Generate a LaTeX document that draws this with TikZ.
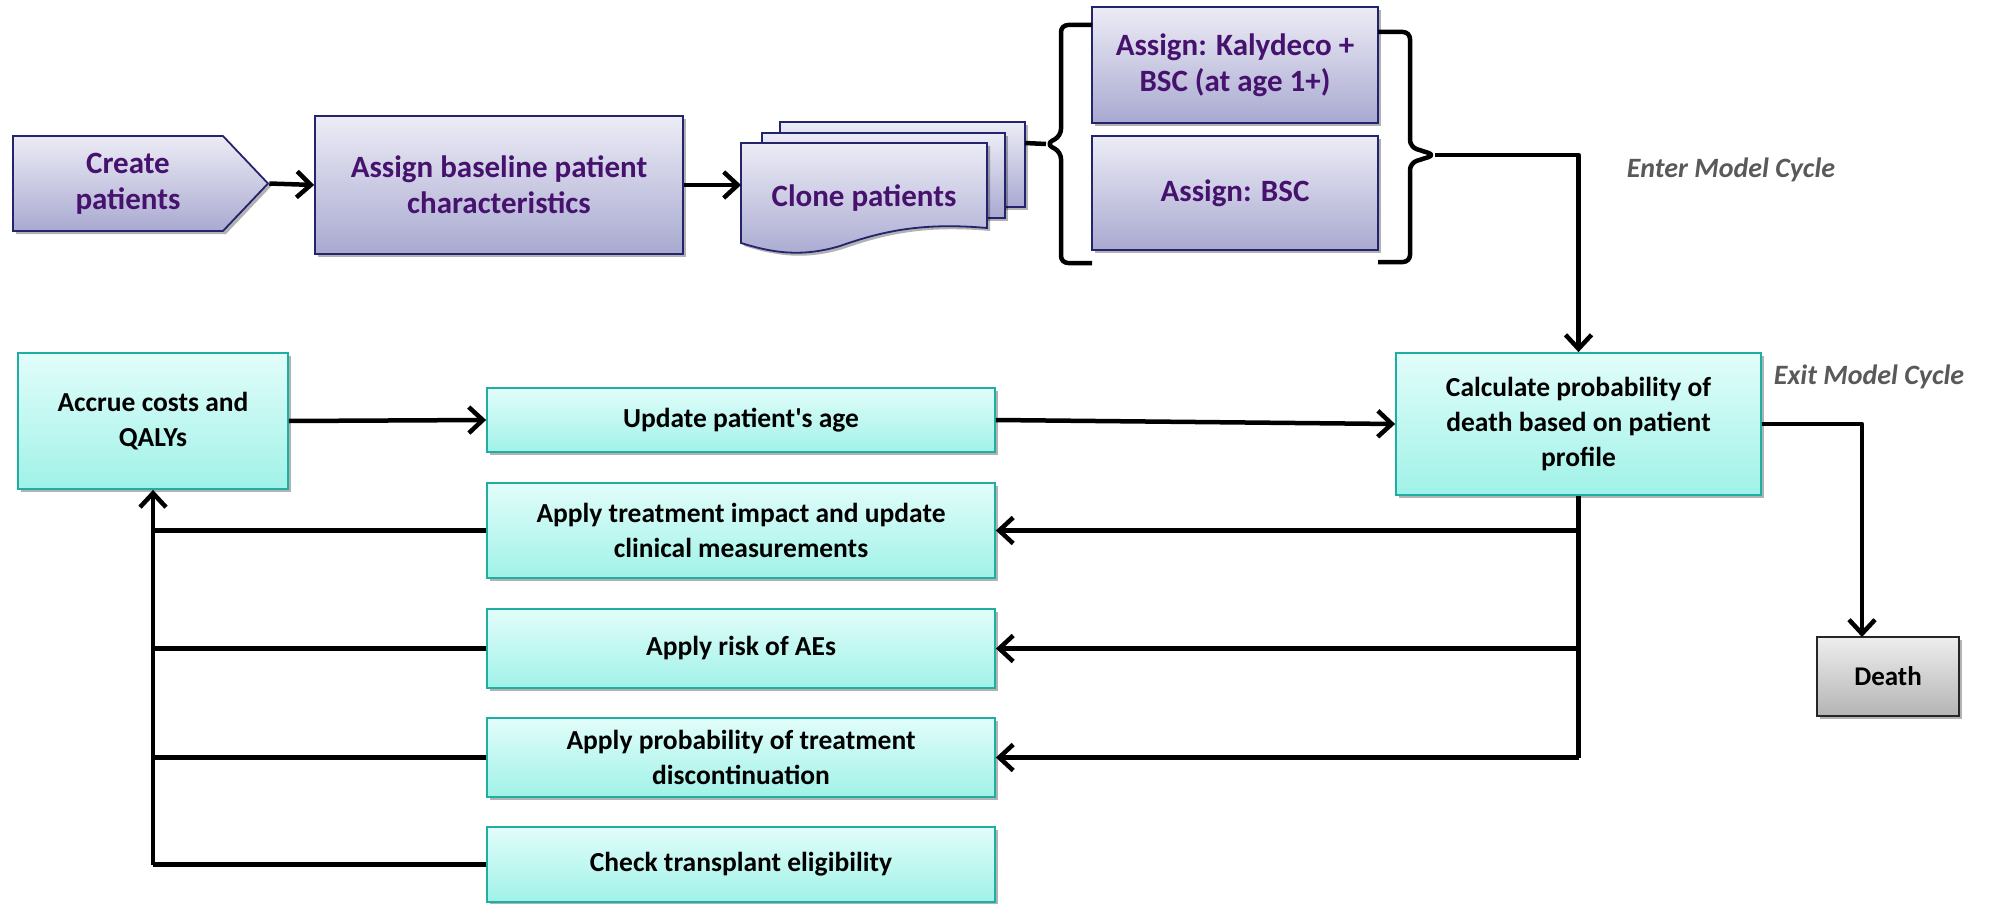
\documentclass[tikz,border=0pt]{standalone}
\usepackage{fontspec}
\setmainfont{Carlito}[Ligatures=TeXOff]
\usetikzlibrary{arrows.meta,shapes.symbols,shadows,calc}
\definecolor{lavtop}{HTML}{ECECF6}
\definecolor{lavbot}{HTML}{A9A9D1}
\definecolor{navyb}{HTML}{23236E}
\definecolor{purtext}{HTML}{46126E}
\definecolor{tealtop}{HTML}{E2FDFA}
\definecolor{tealbot}{HTML}{A0F2E8}
\definecolor{tealb}{HTML}{1EAFA2}
\definecolor{greytop}{HTML}{EEEEEE}
\definecolor{greybot}{HTML}{B4B4B4}
\definecolor{cyclegrey}{HTML}{595959}
\tikzset{
  shad/.style={drop shadow={shadow xshift=3pt,shadow yshift=-3pt,opacity=0.3,fill=black}},
  purfill/.style={draw=navyb, line width=1.8pt, top color=lavtop, bottom color=lavbot, shad},
  purtxt/.style={text=purtext, font=\bfseries\fontsize{31}{36}\selectfont, align=center, inner sep=0pt},
  purbox/.style={purfill, purtxt},
  tealbox/.style={draw=tealb, line width=1.8pt, top color=tealtop, bottom color=tealbot, shad,
     font=\bfseries\fontsize{27.5}{35}\selectfont, align=center, inner sep=0pt},
  greybox/.style={draw=black!85, line width=1.8pt, top color=greytop, bottom color=greybot, shad,
     font=\bfseries\fontsize{27}{33}\selectfont, align=center, inner sep=0pt},
  conn/.style={line width=4.5pt, black, line join=round},
  arr/.style={conn, -{Straight Barb[length=14pt,width=26pt]}},
  cyclelabel/.style={text=cyclegrey, font=\bfseries\itshape\fontsize{28}{33}\selectfont, inner sep=0pt}
}
\begin{document}
\begin{tikzpicture}[x=1pt,y=-1pt]
\useasboundingbox (0,0) rectangle (1991,904);

% top row
\node[purfill, signal, signal to=east, signal pointer angle=93,
      minimum width=255pt, minimum height=95pt, inner sep=0pt] (create) at (118,183.5) {};
\node[purtxt] (createtxt) at (128,184) {Create\\patients};
\node[purbox, minimum width=368pt, minimum height=138pt] (assign) at (499,185) {Assign baseline patient\\characteristics};

% clone patients (stacked documents)
\path[purfill] (780,122) rectangle (1025,207);
\path[purfill] (762,133) rectangle (1005,218);
\path[purfill] (741,143) -- (987,143) -- (987,228)
   .. controls (920,222) and (880,232) .. (840,246)
   .. controls (800,258) and (770,252) .. (741,243) -- cycle;
\node[purtxt] (clone) at (864,198) {Clone patients};
\coordinate (clonein) at (741,185);
\coordinate (cloneout) at (1025,143);

% treatment assignment
\node[purbox, minimum width=286pt, minimum height=116pt] (kaly) at (1235,65) {Assign: Kalydeco +\\BSC (at age 1+)};
\node[purbox, minimum width=286pt, minimum height=114pt] (bsc) at (1235,193) {Assign: BSC};

% braces
\coordinate (lbtip) at (1046,144);
\coordinate (rbtip) at (1435,155);
\draw[conn, rounded corners=7pt] (1092,25) -- (1061,25) -- (1061,136) -- (lbtip) -- (1061,152) -- (1061,263) -- (1092,263);
\draw[conn, rounded corners=7pt] (1378,32) -- (1410,32) -- (1410,147) -- (rbtip) -- (1410,163) -- (1410,262) -- (1378,262);

\node[cyclelabel] (enter) at (1731,170) {Enter Model Cycle};
\node[cyclelabel] (exit) at (1869,377) {Exit Model Cycle};

% cycle boxes
\node[tealbox, minimum width=365pt, minimum height=142pt] (calc) at (1578.5,424) {Calculate probability of\\death based on patient\\profile};
\node[greybox, minimum width=142pt, minimum height=79pt] (death) at (1888,676.5) {Death};
\node[tealbox, minimum width=270pt, minimum height=136pt] (accrue) at (153,421) {Accrue costs and\\QALYs};
\node[tealbox, minimum width=508pt, minimum height=64pt] (update) at (741,420) {Update patient's age};
\node[tealbox, minimum width=508pt, minimum height=95pt] (treat) at (741,530.5) {Apply treatment impact and update\\clinical measurements};
\node[tealbox, minimum width=508pt, minimum height=79pt] (risk) at (741,648.5) {Apply risk of AEs};
\node[tealbox, minimum width=508pt, minimum height=79pt] (prob) at (741,757.5) {Apply probability of treatment\\discontinuation};
\node[tealbox, minimum width=508pt, minimum height=75pt] (check) at (741,864.5) {Check transplant eligibility};

% connectors top row
\draw[arr] (create.east) -- (assign.west);
\draw[arr] (assign.east |- clonein) -- (clonein);
\draw[conn] (cloneout) -- (lbtip);
\draw[arr] (rbtip) -| (calc.north);

% cycle connectors
\draw[arr] (accrue.east) -- (update.west);
\draw[arr] (update.east) -- (calc.west);
\coordinate (deathin) at (1862,637);
\draw[arr] (calc.east) -| (deathin);

\coordinate (r1) at (calc.south |- treat.east);
\coordinate (r2) at (calc.south |- risk.east);
\coordinate (r3) at (calc.south |- prob.east);
\draw[conn] (calc.south) -- (r3);
\draw[arr] (r1) -- (treat.east);
\draw[arr] (r2) -- (risk.east);
\draw[arr] (r3) -- (prob.east);

\coordinate (l1) at (accrue.south |- treat.west);
\coordinate (l2) at (accrue.south |- risk.west);
\coordinate (l3) at (accrue.south |- prob.west);
\coordinate (l4) at (accrue.south |- check.west);
\draw[arr] (l4) -- (accrue.south);
\draw[conn] (treat.west) -- (l1);
\draw[conn] (risk.west) -- (l2);
\draw[conn] (prob.west) -- (l3);
\draw[conn] (check.west) -- (l4);
\end{tikzpicture}
\end{document}
